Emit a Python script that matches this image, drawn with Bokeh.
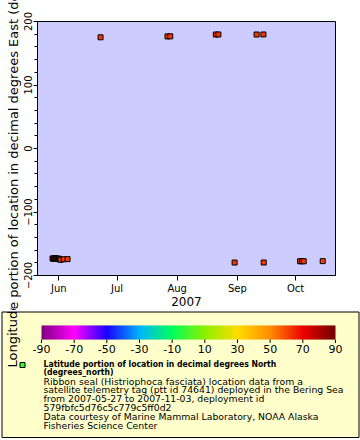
import numpy as np
import pandas as pd
from bokeh.plotting import figure
from bokeh.layouts import column
from bokeh.models import (Range1d, Title, MonthsTicker, DatetimeTickFormatter,
                          FixedTicker, ColumnDataSource)
from bokeh.core.properties import value
from bokeh.transform import linear_cmap
from bokeh.embed import file_html
from bokeh.resources import INLINE

# ---- data ----
times = [
    "2007-05-28 18:00", "2007-05-29 04:00", "2007-05-29 14:00", "2007-05-30 00:00",
    "2007-05-30 10:00", "2007-05-30 20:00", "2007-05-31 06:00", "2007-05-31 16:00",
    "2007-06-01 02:00", "2007-06-01 12:00", "2007-06-01 22:00", "2007-06-03 10:00",
    "2007-06-05 12:00", "2007-06-22 12:00", "2007-07-27 00:00", "2007-07-28 10:00",
    "2007-08-20 22:00", "2007-08-22 05:00", "2007-08-30 14:00", "2007-09-10 22:00",
    "2007-09-14 10:00", "2007-09-14 14:00", "2007-10-03 08:00", "2007-10-04 06:00",
    "2007-10-05 05:00", "2007-10-15 00:00",
]
lon = [
    -173.2, -173.6, -172.9, -173.4,
    -173.8, -173.1, -173.5, -174.0,
    -173.6, -174.6, -175.2, -174.4,
    -174.2, 175.1, 176.5, 176.6,
    179.5, 179.6, -179.6, 179.5,
    179.6, -179.6, -177.6, -177.5,
    -177.6, -177.4,
]
lat = [
    60.1, 60.3, 60.2, 60.4,
    60.5, 60.3, 60.6, 60.7,
    60.8, 60.9, 61.0, 61.2,
    61.4, 62.0, 62.3, 62.4,
    62.6, 62.7, 62.5, 62.2,
    62.0, 61.8, 61.5, 61.3,
    61.2, 61.0,
]

y_ticks = [-200, -100, 0, 100, 200]
y_minor = list(range(-200, 201, 20))
cbar_ticks = [-90, -70, -50, -30, -10, 10, 30, 50, 70, 90]
cbar_cols = ["#7f007f", "#ff00ff", "#1a00ff", "#00b4ff", "#00ff5a",
             "#8cf000", "#ffdc00", "#ff8c00", "#ee0000", "#700000"]

x_start = pd.Timestamp("2007-05-21 00:00")
x_end = pd.Timestamp("2007-10-21 14:00")

y_title = "Longitude portion of location in decimal degrees East (degrees_east)"
y_title_first_word = "Longitude"
bold_lines = [
    "Latitude portion of location in decimal degrees North",
    "(degrees_north)",
]
normal_lines = [
    "Ribbon seal (Histriophoca fasciata) location data from a",
    "satellite telemetry tag (ptt id 74641) deployed in the Bering Sea",
    "from 2007-05-27 to 2007-11-03, deployment id",
    "579fbfc5d76c5c779c5ff0d2",
    "Data courtesy of Marine Mammal Laboratory, NOAA Alaska",
    "Fisheries Science Center",
]

# ---- palette ----
def hex2rgb(h):
    h = h.lstrip("#")
    return [int(h[i:i + 2], 16) for i in (0, 2, 4)]

rgb = np.array([hex2rgb(c) for c in cbar_cols], dtype=float)

def col_at(v):
    return "#%02x%02x%02x" % tuple(int(round(np.interp(v, cbar_ticks, rgb[:, k]))) for k in range(3))

palette = [col_at(v) for v in np.linspace(-90, 90, 256)]

FONT = "DejaVu Sans"
BOLD_FONT = "'DejaVu Sans Condensed', 'DejaVu Sans'"
TOP_H = 308          # height of the plot part
Y_TITLE_START = 367  # page y where the y title starts (reads upward)
Y_TITLE_X = 12

# ================= main plot =================
src = ColumnDataSource(dict(t=pd.to_datetime(times), lon=lon, lat=lat))

p = figure(width=360, height=TOP_H, x_axis_type="datetime",
           x_range=Range1d(x_start, x_end), y_range=Range1d(-200, 200),
           output_backend="svg", toolbar_location=None,
           min_border_left=37, min_border_right=25,
           min_border_top=21, min_border_bottom=32)
p.frame_align = False

p.background_fill_color = "#ccccff"
p.border_fill_color = "white"
p.outline_line_color = "black"
p.outline_line_width = 1
p.grid.visible = False

p.scatter("t", "lon", source=src, marker="square", size=5,
          line_color="black", line_width=1,
          fill_color=linear_cmap("lat", palette, -90, 90))

p.xaxis.ticker = MonthsTicker(months=list(range(12)))
p.xaxis.formatter = DatetimeTickFormatter(months="%b", days="%b", context=None)
p.xaxis.minor_tick_line_color = None
p.xaxis.major_tick_in = 0
p.xaxis.major_tick_out = 5
p.xaxis.major_label_standoff = 2
p.xaxis.axis_label = "2007"
p.xaxis.axis_label_text_font_style = "normal"
p.xaxis.axis_label_text_font_size = "12px"
p.xaxis.axis_label_standoff = 0

p.yaxis.ticker = FixedTicker(ticks=y_ticks, minor_ticks=y_minor)
p.yaxis.major_label_orientation = "vertical"
p.yaxis.major_tick_in = 0
p.yaxis.major_tick_out = 4
p.yaxis.minor_tick_in = 0
p.yaxis.minor_tick_out = 3
p.yaxis.minor_tick_line_color = "black"
p.yaxis.major_label_standoff = 2

for ax in (p.xaxis, p.yaxis):
    ax.axis_line_color = "black"
    ax.major_tick_line_color = "black"
    ax.major_label_text_color = "black"
    ax.major_label_text_font = FONT
    ax.major_label_text_font_size = "10px"
    ax.axis_label_text_font = FONT
    ax.axis_label_text_color = "black"

# y axis title: starts low (in the legend area) and runs upward past the top
p.add_layout(Title(text=y_title, align="left", offset=-(Y_TITLE_START - 276), standoff=0,
                   text_font=FONT, text_font_size="13px", text_font_style="normal",
                   text_color="black"), "left")

# ================= legend / colour bar =================
BOT_H = 130
q = figure(width=360, height=BOT_H, x_range=Range1d(0, 360),
           y_range=Range1d(TOP_H + BOT_H, TOP_H),
           output_backend="svg", toolbar_location=None, min_border=0,
           x_axis_location=None, y_axis_location=None)
q.frame_align = False
q.outline_line_color = None
q.grid.visible = False
q.background_fill_color = "white"
q.border_fill_color = "white"

q.quad(left=[1.5], right=[358.5], top=[311.5], bottom=[437],
       fill_color="#ffffcc", line_color="black", line_width=1)

cb_left, cb_right, cb_top, cb_bot = 41, 335, 325, 339
nseg = 147
w = (cb_right - cb_left) / nseg
segs = dict(left=[], right=[], color=[])
for i in range(nseg):
    v = -90 + (i + 0.5) * 180 / nseg
    segs["left"].append(cb_left + i * w)
    segs["right"].append(cb_left + (i + 1) * w + (0.6 if i < nseg - 1 else 0))
    segs["color"].append(col_at(v))
q.quad(left="left", right="right", top=cb_top, bottom=cb_bot, fill_color="color",
       line_color=None, source=ColumnDataSource(segs))

tick_x = [cb_left + (v + 90) / 180 * (cb_right - cb_left) for v in cbar_ticks]
q.segment(x0=tick_x, y0=cb_bot, x1=tick_x, y1=cb_bot + 3.5, line_color="black", line_width=1)
q.text(x=tick_x, y=[348] * len(tick_x), text=[str(v) for v in cbar_ticks],
       text_align="center", text_baseline="middle", text_font=value(FONT),
       text_font_size="11px", text_color="black")

q.scatter([22], [364.5], marker="square", size=5, fill_color="#33ff33",
          line_color="black", line_width=1)

q.text(x=[43] * len(bold_lines), y=[363 + 8.8 * i for i in range(len(bold_lines))],
       text=bold_lines, text_align="left", text_baseline="middle",
       text_font=value(BOLD_FONT), text_font_size="8.6px", text_font_style="bold",
       text_color="black")
q.text(x=[43] * len(normal_lines),
       y=[363 + 8.8 * (i + len(bold_lines)) for i in range(len(normal_lines))],
       text=normal_lines, text_align="left", text_baseline="middle",
       text_font=value(FONT), text_font_size="9.3px", text_color="black")

# lower part of the y title (the part that falls into the legend area)
q.text(x=[Y_TITLE_X], y=[Y_TITLE_START], text=[y_title_first_word], angle=np.pi / 2,
       text_align="left", text_baseline="middle", text_font=value(FONT),
       text_font_size="13px", text_color="black")

layout = column(p, q, spacing=0)
open("out.html", "w").write(file_html(layout, INLINE))
